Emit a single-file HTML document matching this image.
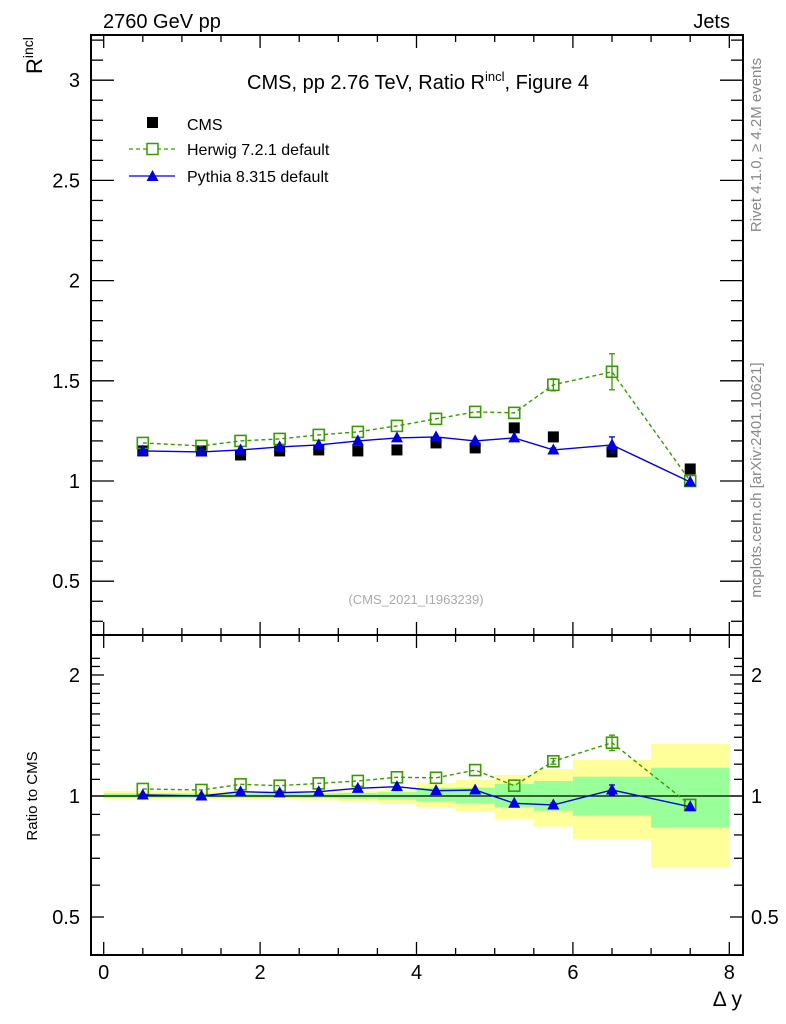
<!DOCTYPE html>
<html><head><meta charset="utf-8">
<style>
html,body{margin:0;padding:0;background:#fff;}
svg{display:block;font-family:"Liberation Sans",sans-serif;}
</style></head>
<body>
<svg id="c" width="786" height="1024" viewBox="0 0 786 1024" xmlns="http://www.w3.org/2000/svg">
<text x="103" y="28" font-size="20">2760 GeV pp</text>
<text x="730" y="28" font-size="20" text-anchor="end">Jets</text>
<text x="418" y="89" font-size="20" text-anchor="middle">CMS, pp 2.76 TeV, Ratio R<tspan dy="-8" font-size="13">incl</tspan><tspan dy="8">, Figure 4</tspan></text>
<text transform="translate(42,74) rotate(-90)" font-size="22">R<tspan dy="-9" font-size="14">incl</tspan></text>
<text transform="translate(37,796) rotate(-90)" font-size="15" text-anchor="middle">Ratio to CMS</text>
<text x="742" y="1006" font-size="21" text-anchor="end">Δ y</text>
<text transform="translate(761,145) rotate(-90)" font-size="15" fill="#888" text-anchor="middle">Rivet 4.1.0, ≥ 4.2M events</text>
<text transform="translate(761,480) rotate(-90)" font-size="15" fill="#888" text-anchor="middle">mcplots.cern.ch [arXiv:2401.10621]</text>
<text x="416" y="604" font-size="13" fill="#aaa" text-anchor="middle">(CMS_2021_I1963239)</text>
<g>
<rect x="147" y="117" width="11" height="11" fill="#000"/>
<text x="187" y="130" font-size="16">CMS</text>
<line x1="129" y1="149" x2="175" y2="149" stroke="#3a9a00" stroke-dasharray="4,3" stroke-width="1.3"/>
<rect x="147" y="143.5" width="11" height="11" fill="#fff" stroke="#3a9a00" stroke-width="1.5"/>
<text x="187" y="155" font-size="16">Herwig 7.2.1 default</text>
<line x1="129" y1="176" x2="175" y2="176" stroke="#0000e0" stroke-width="1.3"/>
<path d="M152.5,170 L158.5,181 L146.5,181 Z" fill="#0000e0"/>
<text x="187" y="182" font-size="16">Pythia 8.315 default</text>
</g>
<g id="plots"></g>
</svg>
<script>
const binLo = [0,1,1.5,2,2.5,3,3.5,4,4.5,5,5.5,6,7];
const binHi = [1,1.5,2,2.5,3,3.5,4,4.5,5,5.5,6,7,8];
const xCenters = [0.5,1.25,1.75,2.25,2.75,3.25,3.75,4.25,4.75,5.25,5.75,6.5,7.5];
const cmsVals = [1.15,1.15,1.13,1.15,1.155,1.15,1.155,1.19,1.165,1.265,1.22,1.145,1.06];
const herwigVals = [1.19,1.175,1.2,1.21,1.23,1.245,1.275,1.31,1.345,1.34,1.48,1.545,1.0];
const herwigErr = [0,0,0,0,0,0,0,0,0,0,0.03,0.09,0];
const pythiaVals = [1.15,1.145,1.155,1.17,1.18,1.2,1.215,1.22,1.2,1.215,1.155,1.18,0.995];
const pythiaErr = [0,0,0,0,0,0,0,0,0,0,0.01,0.04,0];
const herwigRatio = [1.041,1.035,1.069,1.061,1.075,1.09,1.113,1.11,1.16,1.061,1.22,1.357,0.95];
const herwigRatioErr = [0,0,0,0,0,0,0,0,0,0,0.02,0.06,0];
const pythiaRatio = [1.006,1.0,1.025,1.019,1.025,1.045,1.055,1.031,1.035,0.959,0.95,1.035,0.94];
const pythiaRatioErr = [0,0,0,0,0,0,0,0,0,0,0.01,0.03,0];
const yellowHi = [1.03,1.03,1.03,1.03,1.03,1.03,1.035,1.077,1.096,1.128,1.167,1.229,1.347];
const yellowLo = [0.983,0.983,0.98,0.978,0.975,0.97,0.96,0.935,0.914,0.877,0.839,0.782,0.665];
const greenHi = [1.015,1.015,1.015,1.015,1.015,1.018,1.022,1.047,1.049,1.071,1.09,1.117,1.176];
const greenLo = [0.99,0.99,0.99,0.99,0.988,0.985,0.98,0.968,0.959,0.937,0.919,0.893,0.834];
const xTicks = [0,2,4,6,8];
const mainTicks = [0.5,1,1.5,2,2.5,3];
const ratioTicks = [0.5,1,2];

const NS="http://www.w3.org/2000/svg";
const L=91,R=743,T=35,MB=635,RB=955;
const X=v=>103.7+v*78.2;
const YM=v=>481-(v-1)*200.4;
const YR=v=>796-Math.log2(v)*121;
const g=document.getElementById('plots');
function el(tag,attrs,parent){const e=document.createElementNS(NS,tag);for(const k in attrs)e.setAttribute(k,attrs[k]);(parent||g).appendChild(e);return e;}

// bands
for(let i=0;i<binLo.length;i++){
  const y=el('rect',{x:X(binLo[i]),y:YR(yellowHi[i]),width:X(binHi[i])-X(binLo[i]),height:YR(yellowLo[i])-YR(yellowHi[i]),fill:'#ffff99'});
  
  
  const gr=el('rect',{x:X(binLo[i]),y:YR(greenHi[i]),width:X(binHi[i])-X(binLo[i]),height:YR(greenLo[i])-YR(greenHi[i]),fill:'#99ff99'});
  
  
}
el('line',{x1:L,x2:R,y1:YR(1),y2:YR(1),stroke:'#000','stroke-width':1.3});

// frames
const f1=el('rect',{x:L,y:T,width:R-L,height:MB-T,fill:'none',stroke:'#000','stroke-width':2});


const f2=el('rect',{x:L,y:MB,width:R-L,height:RB-MB,fill:'none',stroke:'#000','stroke-width':2});



// x ticks
for(let v=0;v<=8.001;v+=0.5){
  const maj=Math.abs(v-Math.round(v/2)*2)<1e-6, len=maj?13:7;
  [[T,1],[MB,-1],[MB,1],[RB,-1]].forEach(([y0,d])=>el('line',{x1:X(v),x2:X(v),y1:y0,y2:y0+d*len,stroke:'#000','stroke-width':1.3}));
}
xTicks.forEach(v=>{const t=el('text',{x:X(v),y:979,'font-size':20,'text-anchor':'middle'});t.textContent=v;
  
  });
// main y ticks
for(let v=0.3;v<=3.21;v+=0.1){
  const maj=Math.abs(v*2-Math.round(v*2))<1e-6, len=maj?23:12, y=YM(v);
  el('line',{x1:L,x2:L+len,y1:y,y2:y,stroke:'#000','stroke-width':1.3});
  el('line',{x1:R,x2:R-len,y1:y,y2:y,stroke:'#000','stroke-width':1.3});
}
mainTicks.forEach(v=>{const t=el('text',{x:80,y:YM(v)+7,'font-size':20,'text-anchor':'end'});t.textContent=v;
  
  });
// ratio y ticks
const rt=[0.4,0.5,0.6,0.7,0.8,0.9,1,1.1,1.2,1.3,1.4,1.5,1.6,1.7,1.8,1.9,2,2.1,2.2];
rt.forEach(v=>{const y=YR(v);if(y<MB||y>RB)return;const maj=ratioTicks.includes(v),len=maj?13:9;
  el('line',{x1:L,x2:L+len,y1:y,y2:y,stroke:'#000','stroke-width':1.3});
  el('line',{x1:R,x2:R-len,y1:y,y2:y,stroke:'#000','stroke-width':1.3});});
ratioTicks.forEach(v=>{
  const t=el('text',{x:80,y:YR(v)+7,'font-size':20,'text-anchor':'end'});t.textContent=v;
  
  
  const t2=el('text',{x:751,y:YR(v)+7,'font-size':20});t2.textContent=v;
  
  });

function series(vals,errs,Y,color,dash,marker,name){
  const pts=xCenters.map((x,i)=>X(x)+','+Y(vals[i])).join(' ');
  const pl=el('polyline',{points:pts,fill:'none',stroke:color,'stroke-width':1.4});
  if(dash)pl.setAttribute('stroke-dasharray','4,3');
  
  
  xCenters.forEach((x,i)=>{
    const cx=X(x),cy=Y(vals[i]);
    if(errs&&errs[i]>0){
      const y1=Y(vals[i]+errs[i]),y2=Y(vals[i]-errs[i]);
      el('line',{x1:cx,x2:cx,y1:y1,y2:y2,stroke:color,'stroke-width':1.3});
      el('line',{x1:cx-3,x2:cx+3,y1:y1,y2:y1,stroke:color,'stroke-width':1.3});
      el('line',{x1:cx-3,x2:cx+3,y1:y2,y2:y2,stroke:color,'stroke-width':1.3});
    }
    let m;
    if(marker==='sq') m=el('rect',{x:cx-5.5,y:cy-5.5,width:11,height:11,fill:'none',stroke:color,'stroke-width':1.6});
    else if(marker==='tri') m=el('path',{d:`M${cx},${cy-6.5} L${cx+6},${cy+4.5} L${cx-6},${cy+4.5} Z`,fill:color});
    else m=el('rect',{x:cx-5.5,y:cy-5.5,width:11,height:11,fill:color});
    
    
  });
}
// main panel: CMS markers only
xCenters.forEach((x,i)=>{const m=el('rect',{x:X(x)-5.5,y:YM(cmsVals[i])-5.5,width:11,height:11,fill:'#000'});
  
  });
series(herwigVals,herwigErr,YM,'#3a9a00',true,'sq','herwig');
series(pythiaVals,pythiaErr,YM,'#0000e0',false,'tri','pythia');
series(herwigRatio,herwigRatioErr,YR,'#3a9a00',true,'sq','herwig-ratio');
series(pythiaRatio,pythiaRatioErr,YR,'#0000e0',false,'tri','pythia-ratio');
</script>
</body></html>
